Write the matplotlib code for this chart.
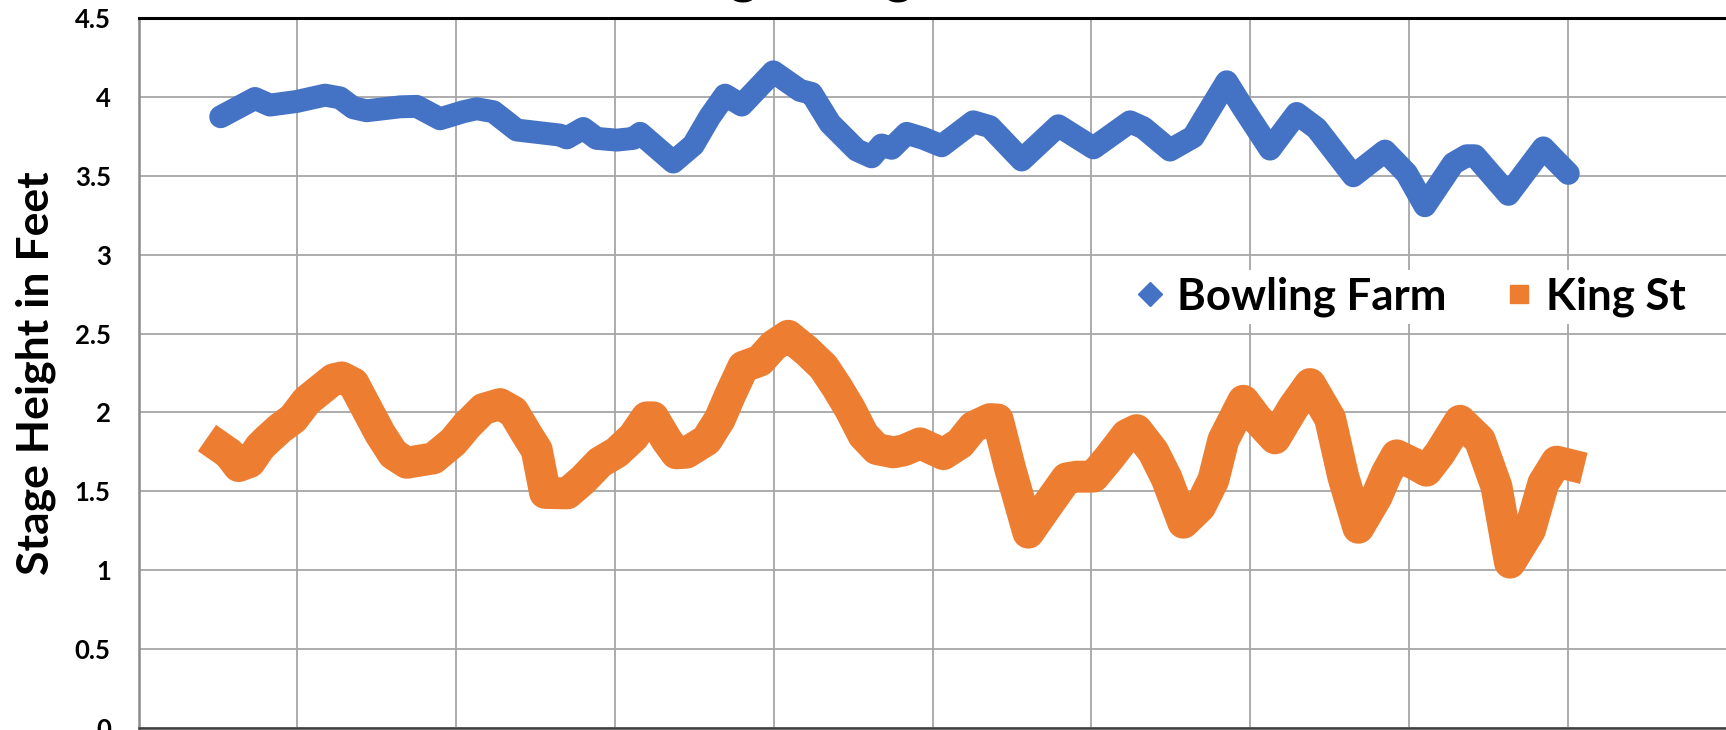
import matplotlib
matplotlib.use("Agg")
import matplotlib.pyplot as plt
from matplotlib.lines import Line2D
import numpy as np

plt.rcParams['font.family'] = ['Lato', 'DejaVu Sans']

# ---- data (x in grid units, y = stage height in feet) ----
bowling_x = [0.517, 0.733, 0.827, 0.996, 1.174, 1.268, 1.352, 1.436, 1.646, 1.751,
             1.898, 2.045, 2.129, 2.234, 2.381, 2.654, 2.696, 2.80, 2.884, 3.011,
             3.116, 3.158, 3.367, 3.493, 3.597, 3.693, 3.798, 3.997, 4.165, 4.238,
             4.354, 4.522, 4.616, 4.679, 4.742, 4.837, 4.942, 5.057, 5.256, 5.361,
             5.561, 5.792, 6.013, 6.243, 6.327, 6.495, 6.642, 6.705, 6.852, 6.957,
             7.125, 7.293, 7.419, 7.649, 7.849, 7.985, 8.10, 8.279, 8.363, 8.415,
             8.626, 8.846, 8.93, 9.003]
bowling_y = [3.874, 3.99, 3.948, 3.971, 4.011, 3.994, 3.931, 3.912, 3.937, 3.94,
             3.861, 3.906, 3.925, 3.906, 3.790, 3.758, 3.74, 3.80, 3.737, 3.726,
             3.737, 3.769, 3.587, 3.695, 3.874, 4.011, 3.948, 4.159, 4.041, 4.022,
             3.832, 3.663, 3.62, 3.695, 3.674, 3.769, 3.737, 3.690, 3.842, 3.811,
             3.600, 3.817, 3.677, 3.842, 3.804, 3.663, 3.747, 3.853, 4.096, 3.927,
             3.669, 3.895, 3.80, 3.50, 3.657, 3.515, 3.31, 3.578, 3.627, 3.627,
             3.382, 3.677, 3.589, 3.515]

king_x = [0.513, 0.57, 0.63, 0.70, 0.764, 0.807, 0.890, 0.974, 1.059, 1.143,
          1.227, 1.279, 1.353, 1.436, 1.52, 1.604, 1.688, 1.856, 1.982, 2.066,
          2.171, 2.276, 2.36, 2.444, 2.507, 2.56, 2.70, 2.80, 2.905, 3.011,
          3.116, 3.20, 3.24, 3.325, 3.386, 3.45, 3.577, 3.66, 3.723, 3.808,
          3.913, 3.997, 4.091, 4.207, 4.312, 4.396, 4.48, 4.564, 4.648, 4.753,
          4.82, 4.921, 5.068, 5.173, 5.257, 5.362, 5.41, 5.488, 5.603, 5.739,
          5.844, 5.907, 6.013, 6.117, 6.222, 6.285, 6.39, 6.474, 6.579, 6.684,
          6.768, 6.831, 6.957, 7.041, 7.156, 7.272, 7.377, 7.503, 7.586, 7.681,
          7.796, 7.859, 7.922, 8.027, 8.11, 8.194, 8.321, 8.446, 8.551, 8.636,
          8.762, 8.846, 8.93, 9.003]
king_y = [1.78, 1.74, 1.66, 1.686, 1.78, 1.823, 1.899, 1.962, 2.074, 2.142,
          2.21, 2.222, 2.184, 2.026, 1.867, 1.736, 1.681, 1.709, 1.814, 1.916,
          2.022, 2.053, 2.005, 1.863, 1.762, 1.49, 1.487, 1.574, 1.684, 1.747,
          1.846, 1.969, 1.969, 1.825, 1.741, 1.745, 1.825, 1.958, 2.106, 2.29,
          2.328, 2.423, 2.486, 2.391, 2.29, 2.163, 2.022, 1.857, 1.768, 1.747,
          1.76, 1.804, 1.736, 1.804, 1.909, 1.958, 1.955, 1.646, 1.238, 1.434,
          1.582, 1.593, 1.593, 1.719, 1.857, 1.888, 1.751, 1.582, 1.301, 1.403,
          1.572, 1.825, 2.074, 1.962, 1.836, 2.032, 2.18, 1.962, 1.593, 1.269,
          1.466, 1.614, 1.728, 1.677, 1.631, 1.741, 1.947, 1.825, 1.529, 1.048,
          1.255, 1.551, 1.688, 1.67]

y_ticks = [0, 0.5, 1, 1.5, 2, 2.5, 3, 3.5, 4, 4.5]
y_ticklabels = ['0', '0.5', '1', '1.5', '2', '2.5', '3', '3.5', '4', '4.5']
series_names = ['Bowling Farm', 'King St']
title_text = 'Stage Height'
ylabel_text = 'Stage Height in Feet'

BLUE = '#4472C4'
ORANGE = '#ED7D31'

W, H = 1726, 730
fig = plt.figure(figsize=(W / 100, H / 100), dpi=100)
ax = fig.add_axes([138.6 / W, 2 / H, 1588 / W, 710 / H])

ax.plot(bowling_x, bowling_y, color=BLUE, lw=16.5, solid_joinstyle='round',
        solid_capstyle='round', zorder=3)
ax.plot(king_x, king_y, color=ORANGE, lw=23, solid_joinstyle='round',
        solid_capstyle='projecting', zorder=3)

ax.set_xlim(0, 10)
ax.set_ylim(0, 4.5)
ax.set_xticks(np.arange(0, 11, 1))
ax.set_xticklabels([])
ax.set_yticks(y_ticks)
ax.set_yticklabels(y_ticklabels, fontsize=18.5, fontweight='bold')
ax.tick_params(axis='both', length=0, pad=20)
ax.grid(True, color='#A6A6A6', lw=1.3, zorder=0)
ax.set_axisbelow(True)

ax.spines['right'].set_visible(False)
ax.spines['top'].set_color('black')
ax.spines['top'].set_linewidth(2.2)
ax.spines['left'].set_color('#8C8C8C')
ax.spines['left'].set_linewidth(1.8)
ax.spines['bottom'].set_color('#404040')
ax.spines['bottom'].set_linewidth(1.8)

ax.set_ylabel(ylabel_text, fontsize=32, fontweight='bold')
ax.yaxis.label.set_ha('center')
ax.yaxis.label.set_va('center')
ax.yaxis.set_label_coords((36 - 138.6) / 1588, 0.5)

# title, mostly cut off by the top of the figure
fig.text(808 / W, 1 + 8 / H, title_text, fontsize=39, fontweight='bold',
         ha='center', va='baseline')

handles = [Line2D([], [], ls='none', marker='D', color=BLUE, markersize=12),
           Line2D([], [], ls='none', marker='s', color=ORANGE, markersize=13)]
leg = ax.legend(handles, series_names, ncol=2, loc='center left',
                bbox_to_anchor=(1122 / W, 1 - 297 / H), bbox_transform=fig.transFigure,
                frameon=True, fancybox=False, framealpha=1, facecolor='white',
                edgecolor='none', borderpad=0.15, borderaxespad=0,
                handlelength=1.0, handletextpad=0.1, columnspacing=1.17,
                prop={'size': 31.5, 'weight': 'bold'})
leg.set_zorder(5)

fig.savefig('out.png', dpi=100)
